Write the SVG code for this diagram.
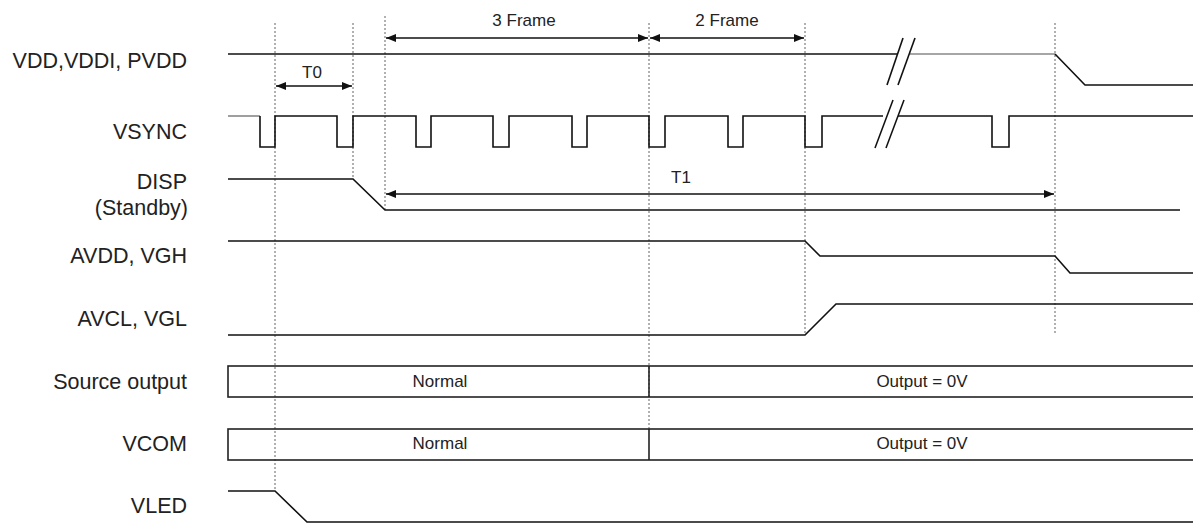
<svg xmlns="http://www.w3.org/2000/svg" width="1193" height="523" viewBox="0 0 1193 523">
<style>
.lbl{font-family:"Liberation Sans",Arial,sans-serif;font-size:21.5px;fill:#222;text-anchor:end}
.sm{font-family:"Liberation Sans",Arial,sans-serif;font-size:17px;fill:#222;text-anchor:middle}
.sig{fill:none;stroke:#111;stroke-width:1.6}
.gray{fill:none;stroke:#888;stroke-width:1.6}
.dot{fill:none;stroke:#888;stroke-width:1.3;stroke-dasharray:2 2}
.arr{fill:none;stroke:#111;stroke-width:1.6}
.box{fill:none;stroke:#222;stroke-width:1.6}
</style>
<defs>
<marker id="ah" markerWidth="10" markerHeight="8" refX="10" refY="4" orient="auto-start-reverse" markerUnits="userSpaceOnUse">
<path d="M0,0 L10,4 L0,8 Z" fill="#111"/>
</marker>
</defs>
<rect width="1193" height="523" fill="#fff"/>
<g id="guides">
<line class="dot" x1="275" y1="23" x2="275" y2="491"/>
<line class="dot" x1="353" y1="23" x2="353" y2="179"/>
<line class="dot" x1="385" y1="16" x2="385" y2="210"/>
<line class="dot" x1="649" y1="23" x2="649" y2="429"/>
<line class="dot" x1="805" y1="23" x2="805" y2="335"/>
<line class="dot" x1="1055" y1="23" x2="1055" y2="335"/>
</g>
<g id="labels">
<text class="lbl" x="187" y="68">VDD,VDDI, PVDD</text>
<text class="lbl" x="187" y="139">VSYNC</text>
<text class="lbl" x="187" y="189">DISP</text>
<text class="lbl" x="188" y="215">(Standby)</text>
<text class="lbl" x="187" y="263">AVDD, VGH</text>
<text class="lbl" x="187" y="326">AVCL, VGL</text>
<text class="lbl" x="187" y="389">Source output</text>
<text class="lbl" x="187" y="451">VCOM</text>
<text class="lbl" x="187" y="513">VLED</text>
</g>
<g id="vdd">
<polyline class="sig" points="228,54 897,54"/>
<polyline class="gray" points="910,54 1055,54"/>
<polyline class="sig" points="1055,54 1085,85 1193,85"/>
<line class="sig" x1="887" y1="85" x2="903" y2="38"/>
<line class="sig" x1="898" y1="85" x2="915" y2="38"/>
</g>
<g id="vsync">
<polyline class="gray" points="228,116 260,116"/>
<polyline class="sig" points="260,116 260,147 275,147 275,116 337,116 337,147 353,147 353,116 416,116 416,147 431,147 431,116 493,116 493,147 509,147 509,116 572,116 572,147 587,147 587,116 649,116 649,147 665,147 665,116 728,116 728,147 743,147 743,116 805,116 805,147 822,147 822,116 883,116"/>
<polyline class="sig" points="898,116 992,116 992,147 1009,147 1009,116 1193,116"/>
<line class="sig" x1="875" y1="148" x2="893" y2="100"/>
<line class="sig" x1="886" y1="148" x2="904" y2="100"/>
</g>
<g id="disp">
<polyline class="sig" points="228,179 353,179 385,210 1180,210"/>
</g>
<g id="avdd">
<polyline class="sig" points="228,241 805,241 820,256 1055,256 1070,273 1193,273"/>
</g>
<g id="avcl">
<polyline class="sig" points="228,335 805,335 836,304 1193,304"/>
</g>
<g id="source">
<rect class="box" x="228" y="366" width="980" height="31"/>
<line class="box" x1="649" y1="366" x2="649" y2="397"/>
<text class="sm" x="440" y="387">Normal</text>
<text class="sm" x="922" y="387">Output = 0V</text>
</g>
<g id="vcom">
<rect class="box" x="228" y="429" width="980" height="31"/>
<line class="box" x1="649" y1="429" x2="649" y2="460"/>
<text class="sm" x="440" y="449">Normal</text>
<text class="sm" x="922" y="449">Output = 0V</text>
</g>
<g id="vled">
<polyline class="sig" points="228,491 275,491 307,522 1193,522"/>
</g>
<g id="connectors">
<line class="arr" x1="276" y1="86" x2="352" y2="86" marker-start="url(#ah)" marker-end="url(#ah)"/>
<line class="arr" x1="386" y1="38" x2="648" y2="38" marker-start="url(#ah)" marker-end="url(#ah)"/>
<line class="arr" x1="650" y1="38" x2="804" y2="38" marker-start="url(#ah)" marker-end="url(#ah)"/>
<line class="arr" x1="386" y1="194" x2="1054" y2="194" marker-start="url(#ah)" marker-end="url(#ah)"/>
</g>
<g id="timing-labels">
<text class="sm" x="312" y="78">T0</text>
<text class="sm" x="524" y="26">3 Frame</text>
<text class="sm" x="727" y="26">2 Frame</text>
<text class="sm" x="681" y="183">T1</text>
</g>
</svg>
